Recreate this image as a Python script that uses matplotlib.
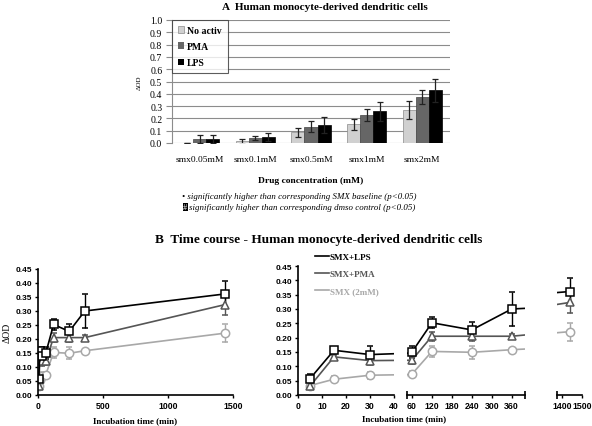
import numpy as np
import matplotlib
matplotlib.use("Agg")
import matplotlib.pyplot as plt
from matplotlib.lines import Line2D
from matplotlib.patches import Patch

# panel A data
conc = ['smx0.05mM', 'smx0.1mM', 'smx0.5mM', 'smx1mM', 'smx2mM']
noactiv = [0.002, 0.013, 0.086, 0.151, 0.268]
noactiv_err = [0.0, 0.02, 0.04, 0.048, 0.075]
pma = [0.03, 0.04, 0.132, 0.224, 0.376]
pma_err = [0.032, 0.018, 0.045, 0.049, 0.056]
lps = [0.03, 0.051, 0.149, 0.257, 0.427]
lps_err = [0.032, 0.033, 0.065, 0.078, 0.097]

# panel B data
times = [5, 15, 30, 60, 120, 240, 360, 1440]
lps_t = [0.057, 0.156, 0.141, 0.150, 0.252, 0.227, 0.300, 0.361]
lps_t_err = [0.017, 0.006, 0.03, 0.022, 0.02, 0.028, 0.06, 0.047]
pma_t = [0.031, 0.133, 0.120, 0.122, 0.205, 0.205, 0.205, 0.323]
pma_t_err = [0.005, 0.008, 0.015, 0.015, 0.015, 0.015, 0.008, 0.036]
smx_t = [0.033, 0.055, 0.069, 0.073, 0.152, 0.149, 0.158, 0.221]
smx_t_err = [0.004, 0.01, 0.012, 0.01, 0.02, 0.022, 0.004, 0.031]

W, H = 592, 427
fig = plt.figure(figsize=(W / 100, H / 100), dpi=100)

def box(x0, y0, x1, y1):
    # pixel box (top-left origin) -> figure fraction rect
    return [x0 / W, 1 - y1 / H, (x1 - x0) / W, (y1 - y0) / H]

serif = 'Liberation Serif'
sans = 'Liberation Sans'

# ---------------- panel A ----------------
ax = fig.add_axes(box(172, 21, 450, 144))
x = np.arange(len(conc))
bw = 0.235
ekw = dict(ecolor='#222222', elinewidth=0.9, capsize=2.2, capthick=0.9)
ax.bar(x - bw, noactiv, bw, yerr=noactiv_err, color='#d0d0d0', edgecolor='#8a8a8a',
       linewidth=0.5, error_kw=ekw, label='No activ', zorder=3)
ax.bar(x, pma, bw, yerr=pma_err, color='#666666', edgecolor='#444444',
       linewidth=0.5, error_kw=ekw, label='PMA', zorder=3)
ax.bar(x + bw, lps, bw, yerr=lps_err, color='#000000', edgecolor='#000000',
       linewidth=0.5, error_kw=ekw, label='LPS', zorder=3)
ax.set_xlim(-0.5, 4.5)
ax.set_ylim(0, 1.0)
ax.set_yticks(np.arange(0, 1.01, 0.1))
ax.set_yticklabels([f'{v:.1f}' for v in np.arange(0, 1.01, 0.1)], fontfamily=serif, fontsize=7)
ax.set_xticks(x)
ax.set_xticklabels(conc, fontfamily=serif, fontsize=6.8)
ax.tick_params(axis='y', length=4, width=0.8, color='#8c8c8c', pad=3)
ax.tick_params(axis='x', length=0, pad=9)
ax.yaxis.grid(True, color='#8c8c8c', linewidth=0.8, zorder=0)
for s in ax.spines.values():
    s.set_visible(False)
ax.spines['left'].set_visible(True)
ax.spines['left'].set_color('#8c8c8c')
ax.spines['left'].set_linewidth(0.8)
ax.set_xlabel('Drug concentration (mM)', fontfamily=serif, fontsize=6.8,
              fontweight='bold', labelpad=9)
ax.set_ylabel('ΔOD', fontfamily=serif, fontsize=5, labelpad=6)
handles = [Patch(facecolor='#d0d0d0', edgecolor='#8a8a8a', linewidth=0.5),
           Patch(facecolor='#666666'), Patch(facecolor='#000000')]
leg = ax.legend(handles, ['No activ', 'PMA', 'LPS'], loc='upper left',
                bbox_to_anchor=(0.0, 1.0), prop={'family': serif, 'weight': 'bold', 'size': 7},
                fancybox=False, edgecolor='#333333', handlelength=0.65, handleheight=0.65,
                handletextpad=0.3, labelspacing=0.75, borderpad=0.6, borderaxespad=0.0)
leg.get_frame().set_linewidth(0.8)
fig.text(325 / W, 1 - 8 / H, 'A  Human monocyte-derived dendritic cells', ha='center',
         va='center', fontfamily=serif, fontweight='bold', fontsize=8)

# footnotes
fig.text(182 / W, 1 - 197 / H, '• significantly higher than corresponding SMX baseline (p<0.05)',
         ha='left', va='center', fontfamily=serif, style='italic', fontsize=6.4)
fig.text(183 / W, 1 - 208 / H, '#', ha='left', va='center', fontfamily=serif, fontsize=6,
         color='white', bbox=dict(facecolor='black', edgecolor='none', pad=0.3))
fig.text(189 / W, 1 - 208 / H, 'significantly higher than corresponding dmso control (p<0.05)',
         ha='left', va='center', fontfamily=serif, style='italic', fontsize=6.4)

fig.text(155 / W, 1 - 240 / H, 'B  Time course - Human monocyte-derived dendritic cells',
         ha='left', va='center', fontfamily=serif, fontweight='bold', fontsize=9.5)

# ---------------- panel B ----------------
series = [
    (smx_t, smx_t_err, '#a8a8a8', 'o', 'SMX (2mM)'),
    (pma_t, pma_t_err, '#555555', '^', 'SMX+PMA'),
    (lps_t, lps_t_err, '#000000', 's', 'SMX+LPS'),
]

def draw(a):
    for vals, errs, col, mk, lab in series:
        a.errorbar(times, vals, yerr=errs, color=col, marker=mk, markersize=6,
                   markerfacecolor='white', markeredgecolor=col, markeredgewidth=1.1,
                   linewidth=1.2, elinewidth=1.0, capsize=2.3, capthick=1.0, label=lab,
                   clip_on=True)

def style(a, left=True):
    a.set_ylim(0, 0.45)
    a.spines['top'].set_visible(False)
    a.spines['right'].set_visible(False)
    a.spines['bottom'].set_linewidth(1.2)
    a.spines['left'].set_linewidth(1.2)
    a.tick_params(direction='out', length=2.5, width=1.0, pad=1.5)
    yt = np.arange(0, 0.451, 0.05)
    a.set_yticks(yt)
    if left:
        a.set_yticklabels([f'{v:.2f}' for v in yt], fontfamily=sans, fontweight='bold', fontsize=6)
    else:
        a.spines['left'].set_visible(False)
        a.tick_params(axis='y', left=False, labelleft=False)
    for t in a.get_xticklabels():
        t.set_fontfamily(sans)
        t.set_fontweight('bold')
        t.set_fontsize(6.3)

bl = fig.add_axes(box(38, 270, 233, 396))
draw(bl)
bl.set_xlim(0, 1500)
bl.set_xticks([0, 500, 1000, 1500])
style(bl)
bl.set_xlabel('Incubation time (min)', fontfamily=serif, fontweight='bold', fontsize=6.5, labelpad=5)
bl.set_ylabel('ΔOD', fontfamily=serif, fontsize=7, labelpad=3)

s1 = fig.add_axes(box(298, 267, 394, 396))
draw(s1)
s1.set_xlim(0, 40)
s1.set_xticks([0, 10, 20, 30, 40])
style(s1)

s2 = fig.add_axes(box(407, 267, 525, 396))
draw(s2)
s2.set_xlim(45, 400)
s2.set_xticks([60, 120, 180, 240, 300, 360])
s2.set_xticks([45, 400], minor=True)
style(s2, left=False)
s2.tick_params(axis='x', which='minor', direction='inout', length=6, width=1.2)

s3 = fig.add_axes(box(557, 267, 582, 396))
draw(s3)
s3.set_xlim(1375, 1500)
s3.set_xticks([1400, 1500])
s3.set_xticks([1375], minor=True)
style(s3, left=False)
s3.tick_params(axis='x', which='minor', direction='inout', length=6, width=1.2)

fig.text(404 / W, 1 - 419 / H, 'Incubation time (min)', ha='center', va='center',
         fontfamily=serif, fontweight='bold', fontsize=6.5)

lh = [Line2D([], [], color='#000000', linewidth=1.2),
      Line2D([], [], color='#555555', linewidth=1.2),
      Line2D([], [], color='#a8a8a8', linewidth=1.2)]
fig.legend(lh, ['SMX+LPS', 'SMX+PMA', 'SMX (2mM)'], loc='upper left',
           bbox_to_anchor=(310 / W, 1 - 249 / H), frameon=False,
           prop={'family': serif, 'weight': 'bold', 'size': 6.5},
           labelcolor=['#000000', '#555555', '#a8a8a8'], handlelength=1.6,
           handletextpad=0.1, labelspacing=1.0, borderpad=0.0)

fig.savefig('out.png', dpi=100)
